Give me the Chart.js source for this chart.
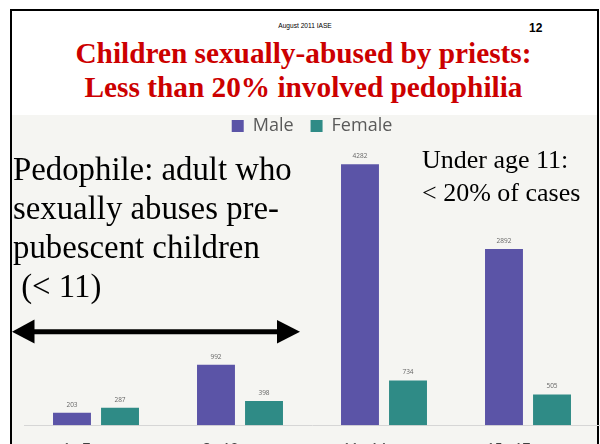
<!DOCTYPE html>
<html>
<head>
<meta charset="utf-8">
<script src="https://cdn.jsdelivr.net/npm/chart.js@4.4.1/dist/chart.umd.min.js"></script>
<style>
  html, body { margin: 0; padding: 0; width: 600px; height: 444px; overflow: hidden; background: #fff; }
  .abs { position: absolute; }
  #frame { left: 9.5px; top: 8.5px; width: 585px; height: 500px; border: 2.5px solid #000; }
  #plotBg { left: 12px; top: 115px; width: 585px; height: 340px; background: #f5f5f2; }
  #chartBox { left: 24.3px; top: 100px; width: 576px; height: 372px; }
  .serif { font-family: "Liberation Serif", "Times New Roman", serif; color: #000; white-space: pre; }
  #title { left: 0; top: 36.4px; width: 607px; text-align: center; font-size: 29.3px; line-height: 34px; font-weight: bold; color: #cc0000; }
  #dateLine { left: 0; top: 22px; width: 610px; text-align: center; font-family: "Liberation Sans", Arial, sans-serif; font-size: 6.6px; line-height: 8px; color: #000; }
  #pageNo { left: 529px; top: 21px; font-family: "Liberation Sans", Arial, sans-serif; font-size: 12px; line-height: 14px; font-weight: bold; }
  #defn { left: 13px; top: 150.4px; font-size: 32.8px; line-height: 39px; }
  #under { left: 422px; top: 144.3px; font-size: 26px; line-height: 32.4px; }
</style>
</head>
<body>
<div id="plotBg" class="abs"></div>
<div id="frame" class="abs"></div>
<div id="dateLine" class="abs">August 2011 IASE</div>
<div id="pageNo" class="abs">12</div>
<div id="title" class="abs serif">Children sexually-abused by priests:
Less than 20% involved pedophilia</div>
<div id="chartBox" class="abs"><canvas id="victimChart"></canvas></div>
<div id="defn" class="abs serif">Pedophile: adult who
sexually abuses pre-
pubescent children
 (&lt; 11)</div>
<div id="under" class="abs serif">Under age 11:
&lt; 20% of cases</div>
<svg class="abs" style="left:0;top:0" width="600" height="444">
  <line x1="30" y1="331.7" x2="281" y2="331.7" stroke="#000" stroke-width="5"/>
  <polygon points="12,331.7 34.5,319.5 34.5,343.5" fill="#000"/>
  <polygon points="300,331.7 277,320 277,343.5" fill="#000"/>
</svg>
<script>
const ageGroups = ['1 - 7 years', '8 - 10 years', '11 - 14 years', '15 - 17 years'];
const maleVictims = [203, 992, 4282, 2892];
const femaleVictims = [287, 398, 734, 505];

const maleColor = '#5b54a7';
const femaleColor = '#2f8b86';

// numbers printed just above each bar
const barValueLabels = {
  id: 'barValueLabels',
  afterDatasetsDraw(chart) {
    const ctx = chart.ctx;
    ctx.save();
    ctx.font = '6.5px "Open Sans", sans-serif';
    ctx.fillStyle = '#666';
    ctx.textAlign = 'center';
    ctx.textBaseline = 'middle';
    chart.data.datasets.forEach((ds, i) => {
      chart.getDatasetMeta(i).data.forEach((bar, j) => {
        ctx.fillText(String(ds.data[j]), bar.x, bar.y - 8);
      });
    });
    ctx.restore();
  }
};

new Chart(document.getElementById('victimChart'), {
  type: 'bar',
  data: {
    labels: ageGroups,
    datasets: [
      {
        label: 'Male',
        data: maleVictims,
        backgroundColor: maleColor,
        categoryPercentage: 0.667,
        barPercentage: 0.79
      },
      {
        label: 'Female',
        data: femaleVictims,
        backgroundColor: femaleColor,
        categoryPercentage: 0.667,
        barPercentage: 0.79
      }
    ]
  },
  options: {
    responsive: true,
    maintainAspectRatio: false,
    animation: false,
    layout: { padding: 0 },
    plugins: {
      legend: {
        display: true,
        labels: {
          boxWidth: 12,
          boxHeight: 12,
          padding: 17,
          color: '#595959',
          font: { family: '"Open Sans", sans-serif', size: 18 }
        }
      },
      tooltip: { enabled: false }
    },
    scales: {
      x: {
        grid: { display: false, drawTicks: false },
        border: { display: true, color: '#d6d6d6', width: 1 },
        ticks: {
          padding: 15,
          color: '#404040',
          font: { family: '"Open Sans", sans-serif', size: 14 }
        }
      },
      y: {
        display: false,
        min: 0,
        max: 4600
      }
    }
  },
  plugins: [barValueLabels]
});
</script>
</body>
</html>
